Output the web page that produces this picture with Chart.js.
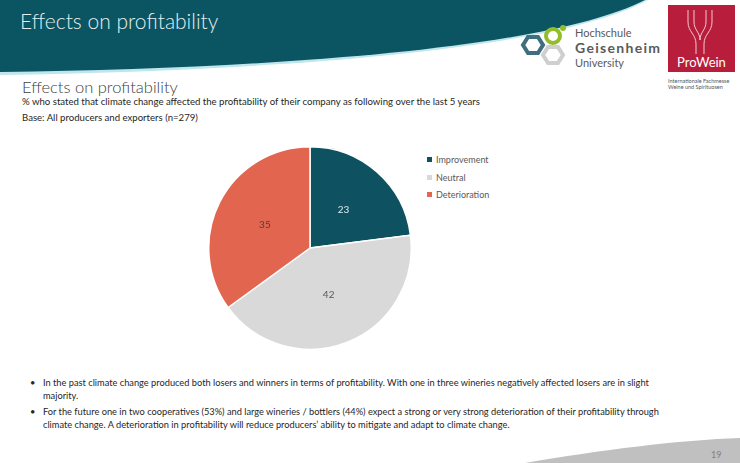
<!DOCTYPE html>
<html lang="en">
<head>
<meta charset="UTF-8">
<title>Effects on profitability</title>
<script src="https://cdn.jsdelivr.net/npm/chart.js@4.4.1/dist/chart.umd.min.js"></script>
<style>
  body { margin: 0; width: 740px; height: 463px; position: relative; overflow: hidden; background: #fff; font-family: Lato, "Open Sans", sans-serif; }
  .abs { position: absolute; white-space: nowrap; }
  #bannerTitle { left: 20px; top: 8px; font-size: 21px; font-weight: 300; color: #e4eff1; }
  #subTitle { left: 22px; top: 77px; font-size: 16.5px; font-weight: 300; color: #404040; }
  .sub { left: 22px; font-size: 9.6px; color: #262626; }
  #legend { left: 427px; top: 151px; font-size: 9px; color: #595959; }
  #legend div { height: 17.5px; display: flex; align-items: center; }
  #legend span.box { width: 5px; height: 5px; margin-right: 4px; display: inline-block; }
  .bullet { left: 30px; font-size: 9.25px; color: #262626; line-height: 13px; }
  .bullet b { font-weight: normal; position: absolute; left: 0; }
  .bullet p { margin: 0 0 0 13px; }
  #pageNo { left: 711px; top: 449px; font-size: 9px; color: #7f7f7f; }
</style>
</head>
<body>
<svg class="abs" style="left:0;top:0" width="740" height="463">
  <path d="M0,0 H648 C560,48 300,70 0,75 Z" fill="#bfe6ec"/>
  <path d="M0,0 H645 C555,46 300,68 0,72 Z" fill="#0b5461"/>
  <path d="M525,463 C600,450 680,440 740,438 V463 Z" fill="#c0c0c0"/>
  <!-- Geisenheim logo -->
  <polygon points="523,45 528,37 538,37 543,45 538,53 528,53" fill="none" stroke="#3f6f7f" stroke-width="4"/>
  <polygon points="543,55 548,47 558,47 563,55 558,63 548,63" fill="none" stroke="#cfcfcf" stroke-width="4"/>
  <circle cx="553" cy="36" r="7" fill="none" stroke="#93bd2a" stroke-width="4"/>
  <circle cx="563" cy="28" r="3" fill="#93bd2a"/>
  <text x="575" y="37" font-size="11" fill="#5a5a5a" font-family="Lato">Hochschule</text>
  <text x="575" y="53" font-size="14" font-weight="bold" fill="#5a5a5a" font-family="Lato" textLength="85">Geisenheim</text>
  <text x="575" y="67" font-size="11" fill="#5a5a5a" font-family="Lato">University</text>
  <!-- ProWein logo -->
  <rect x="668" y="5" width="67" height="67" fill="#b81e3c"/>
  <path d="M688,10 V22 C688,32 696,34 696,44 V54 M712,10 V22 C712,32 704,34 704,44 V54 M694,10 V22 C694,30 700,32 700,40 M706,10 V22 C706,30 700,32 700,40" fill="none" stroke="#f3c6cf" stroke-width="1"/>
  <text x="701.5" y="67" font-size="13" fill="#fff" text-anchor="middle" font-family="Lato">ProWein</text>
  <text x="668" y="83" font-size="5.5" fill="#555" font-family="Lato">Internationale Fachmesse</text>
  <text x="668" y="89" font-size="5.5" fill="#555" font-family="Lato">Weine und Spirituosen</text>
</svg>

<div class="abs" id="bannerTitle">Effects on profitability</div>
<div class="abs" id="subTitle">Effects on profitability</div>
<div class="abs sub" style="top:96px">% who stated that climate change affected the profitability of their company as following over the last 5 years</div>
<div class="abs sub" style="top:112px">Base: All producers and exporters (n=279)</div>

<canvas id="pie" class="abs" style="left:208px;top:146px" width="204" height="204"></canvas>
<div class="abs" id="legend"></div>

<div class="abs bullet" style="top:376px"><b>•</b><p>In the past climate change produced both losers and winners in terms of profitability. With one in three wineries negatively affected losers are in slight<br>majority.</p></div>
<div class="abs bullet" style="top:405px"><b>•</b><p>For the future one in two cooperatives (53%) and large wineries / bottlers (44%) expect a strong or very strong deterioration of their profitability through<br>climate change. A deterioration in profitability will reduce producers’ ability to mitigate and adapt to climate change.</p></div>
<div class="abs" id="pageNo">19</div>

<script>
  // data
  const categories = ['Improvement', 'Neutral', 'Deterioration'];
  const shares = [23, 42, 35];
  const colors = ['#0e5262', '#d9d9d9', '#e2664f'];
  const labelColors = ['#dde9ec', '#595959', '#5a3a32'];

  // legend
  const legend = document.getElementById('legend');
  categories.forEach((c, i) => {
    const row = document.createElement('div');
    row.innerHTML = '<span class="box" style="background:' + colors[i] + '"></span>' + c;
    legend.appendChild(row);
  });

  // value labels inside slices
  const sliceLabels = {
    id: 'sliceLabels',
    afterDatasetsDraw(chart) {
      const ctx = chart.ctx;
      const meta = chart.getDatasetMeta(0);
      ctx.save();
      ctx.font = '10px Lato';
      ctx.textAlign = 'center';
      ctx.textBaseline = 'middle';
      meta.data.forEach((arc, i) => {
        const p = arc.tooltipPosition();
        ctx.fillStyle = labelColors[i];
        ctx.fillText(shares[i], p.x, p.y);
      });
      ctx.restore();
    }
  };

  new Chart(document.getElementById('pie').getContext('2d'), {
    type: 'pie',
    data: {
      labels: categories,
      datasets: [{
        data: shares,
        backgroundColor: colors,
        borderColor: '#ffffff',
        borderWidth: 1.5
      }]
    },
    options: {
      responsive: false,
      animation: false,
      layout: { padding: 0 },
      plugins: { legend: { display: false }, tooltip: { enabled: false } }
    },
    plugins: [sliceLabels]
  });
</script>
</body>
</html>
